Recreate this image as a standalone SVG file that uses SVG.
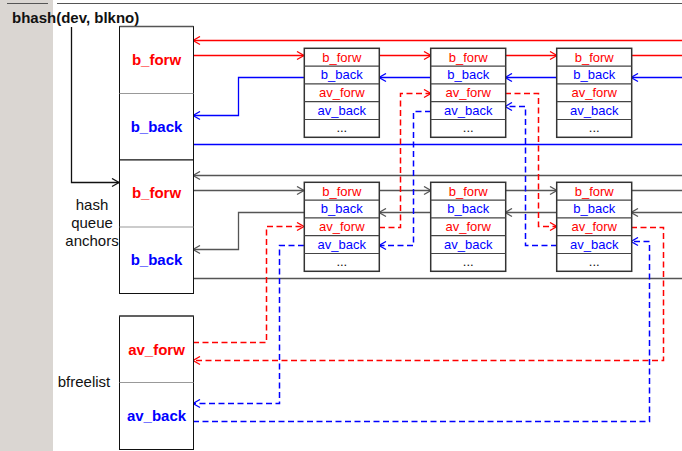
<svg xmlns="http://www.w3.org/2000/svg" width="682" height="451" viewBox="0 0 682 451">
<style>
text{font-family:"Liberation Sans",Arial,sans-serif}
.big{font-size:15px;font-weight:bold;text-anchor:middle}
.sm{font-size:13px;text-anchor:middle}
.lbl{font-size:15px;fill:#111;text-anchor:middle}
.r{fill:#ff0000}.b{fill:#0000ff}.k{fill:#111}
.anc{fill:#fff;stroke:#111;stroke-width:1}
.adiv{stroke:#999;stroke-width:1.2}
.buf{fill:#fff;stroke:#333;stroke-width:1.5}
.bdiv{stroke:#444;stroke-width:1.2}
.c{fill:none;stroke-width:1.3}
.cr{stroke:#ff0000}.cb{stroke:#0000ff}.cg{stroke:#555}.ck{stroke:#111}
.d{stroke-dasharray:6,3.5;stroke-width:1.5}
</style>
<defs>
<marker id="mr" viewBox="-8 -5 10 10" refX="0" refY="0" markerWidth="10" markerHeight="10" markerUnits="userSpaceOnUse" orient="auto"><path d="M-7,-4 L0,0 L-7,4" fill="none" stroke="#ff0000" stroke-width="1.3"/></marker>
<marker id="mb" viewBox="-8 -5 10 10" refX="0" refY="0" markerWidth="10" markerHeight="10" markerUnits="userSpaceOnUse" orient="auto"><path d="M-7,-4 L0,0 L-7,4" fill="none" stroke="#0000ff" stroke-width="1.3"/></marker>
<marker id="mg" viewBox="-8 -5 10 10" refX="0" refY="0" markerWidth="10" markerHeight="10" markerUnits="userSpaceOnUse" orient="auto"><path d="M-7,-4 L0,0 L-7,4" fill="none" stroke="#555" stroke-width="1.3"/></marker>
<marker id="mk" viewBox="-8 -5 10 10" refX="0" refY="0" markerWidth="10" markerHeight="10" markerUnits="userSpaceOnUse" orient="auto"><path d="M-7,-4 L0,0 L-7,4" fill="none" stroke="#111" stroke-width="1.3"/></marker>
<g id="bufT">
<rect class="buf" x="0" y="0" width="75" height="89"/>
<line class="bdiv" x1="0" y1="17.8" x2="75" y2="17.8"/>
<line class="bdiv" x1="0" y1="35.6" x2="75" y2="35.6"/>
<line class="bdiv" x1="0" y1="53.4" x2="75" y2="53.4"/>
<line class="bdiv" x1="0" y1="71.2" x2="75" y2="71.2"/>
<text class="sm r" x="37.5" y="13.4">b_forw</text>
<text class="sm b" x="37.5" y="31.2">b_back</text>
<text class="sm r" x="37.5" y="49">av_forw</text>
<text class="sm b" x="37.5" y="66.8">av_back</text>
<text class="sm k" x="37.5" y="84.2">...</text>
</g>
</defs>
<rect x="0" y="0" width="53" height="451" fill="#dad6d2"/>
<line x1="7" y1="3.5" x2="48" y2="3.5" stroke="#555" stroke-width="1"/>
<line x1="57" y1="3.5" x2="682" y2="3.5" stroke="#555" stroke-width="1"/>
<text x="12" y="23" style="font-size:15px;font-weight:bold;fill:#111">bhash(dev, blkno)</text>
<text class="lbl" x="92" y="210">hash</text>
<text class="lbl" x="92" y="228">queue</text>
<text class="lbl" x="92" y="246">anchors</text>
<text class="lbl" x="84" y="387">bfreelist</text>
<g id="connectors">
<path class="c ck" d="M71.5,27 V182.5 H119" marker-end="url(#mk)"/>
<path class="c cr" d="M682,40.5 H193" marker-end="url(#mr)"/>
<path class="c cr" d="M193,55.5 H304" marker-end="url(#mr)"/>
<path class="c cr" d="M379,55.5 H431" marker-end="url(#mr)"/>
<path class="c cr" d="M505,55.5 H557" marker-end="url(#mr)"/>
<path class="c cr" d="M631,55.5 H682"/>
<path class="c cb" d="M304,77.5 H238.5 V115.5 H193" marker-end="url(#mb)"/>
<path class="c cb" d="M431,77.5 H379" marker-end="url(#mb)"/>
<path class="c cb" d="M557,77.5 H505" marker-end="url(#mb)"/>
<path class="c cb" d="M682,77.5 H631" marker-end="url(#mb)"/>
<path class="c cb" d="M193,144.5 H682"/>
<path class="c cg" d="M682,175.5 H193" marker-end="url(#mg)"/>
<path class="c cg" d="M193,190.5 H304" marker-end="url(#mg)"/>
<path class="c cg" d="M379,190.5 H431" marker-end="url(#mg)"/>
<path class="c cg" d="M505,190.5 H557" marker-end="url(#mg)"/>
<path class="c cg" d="M631,190.5 H682"/>
<path class="c cg" d="M304,212.5 H238.5 V249.5 H193" marker-end="url(#mg)"/>
<path class="c cg" d="M431,212.5 H379" marker-end="url(#mg)"/>
<path class="c cg" d="M557,212.5 H505" marker-end="url(#mg)"/>
<path class="c cg" d="M682,212.5 H631" marker-end="url(#mg)"/>
<path class="c cg" d="M193,278.5 H682"/>
<path class="c cr d" d="M193,342.5 H266.5 V226.5 H304" marker-end="url(#mr)"/>
<path class="c cr d" d="M379,227.5 H400.5 V93.5 H431" marker-end="url(#mr)"/>
<path class="c cr d" d="M505,93.5 H538.5 V226.5 H557" marker-end="url(#mr)"/>
<path class="c cr d" d="M631,227.5 H663.5 V360.5 H193" marker-end="url(#mr)"/>
<path class="c cb d" d="M193,421.5 H649.5 V241.5 H631" marker-end="url(#mb)"/>
<path class="c cb d" d="M557,245.5 H525.5 V106.5 H505" marker-end="url(#mb)"/>
<path class="c cb d" d="M431,111.5 H413.5 V245.5 H379" marker-end="url(#mb)"/>
<path class="c cb d" d="M304,245.5 H279.5 V403.5 H193" marker-end="url(#mb)"/>
</g>
<g id="anchor1">
<rect class="anc" x="119.5" y="26.5" width="74" height="133.5"/>
<line x1="119.5" y1="26.5" x2="193.5" y2="26.5" stroke="#555" stroke-width="1.5"/>
<line class="adiv" x1="119.5" y1="93.5" x2="193.5" y2="93.5"/>
<text class="big r" x="156.5" y="65">b_forw</text>
<text class="big b" x="156.5" y="132">b_back</text>
</g>
<g id="anchor2">
<rect class="anc" x="119.5" y="160" width="74" height="133.5"/>
<line class="adiv" x1="119.5" y1="227" x2="193.5" y2="227"/>
<text class="big r" x="156.5" y="198">b_forw</text>
<text class="big b" x="156.5" y="265">b_back</text>
</g>
<g id="bfreelist">
<rect class="anc" x="119.5" y="316" width="74" height="133.5"/>
<line x1="119.5" y1="316" x2="193.5" y2="316" stroke="#555" stroke-width="1.5"/>
<line class="adiv" x1="119.5" y1="382.5" x2="193.5" y2="382.5"/>
<text class="big r" x="156.5" y="355">av_forw</text>
<text class="big b" x="156.5" y="421">av_back</text>
</g>
<g id="buf1a"><use href="#bufT" x="304.3" y="48.3"/></g>
<g id="buf1b"><use href="#bufT" x="430.7" y="48.3"/></g>
<g id="buf1c"><use href="#bufT" x="556.7" y="48.3"/></g>
<g id="buf2a"><use href="#bufT" x="304.3" y="182.3"/></g>
<g id="buf2b"><use href="#bufT" x="430.7" y="182.3"/></g>
<g id="buf2c"><use href="#bufT" x="556.7" y="182.3"/></g>
</svg>
